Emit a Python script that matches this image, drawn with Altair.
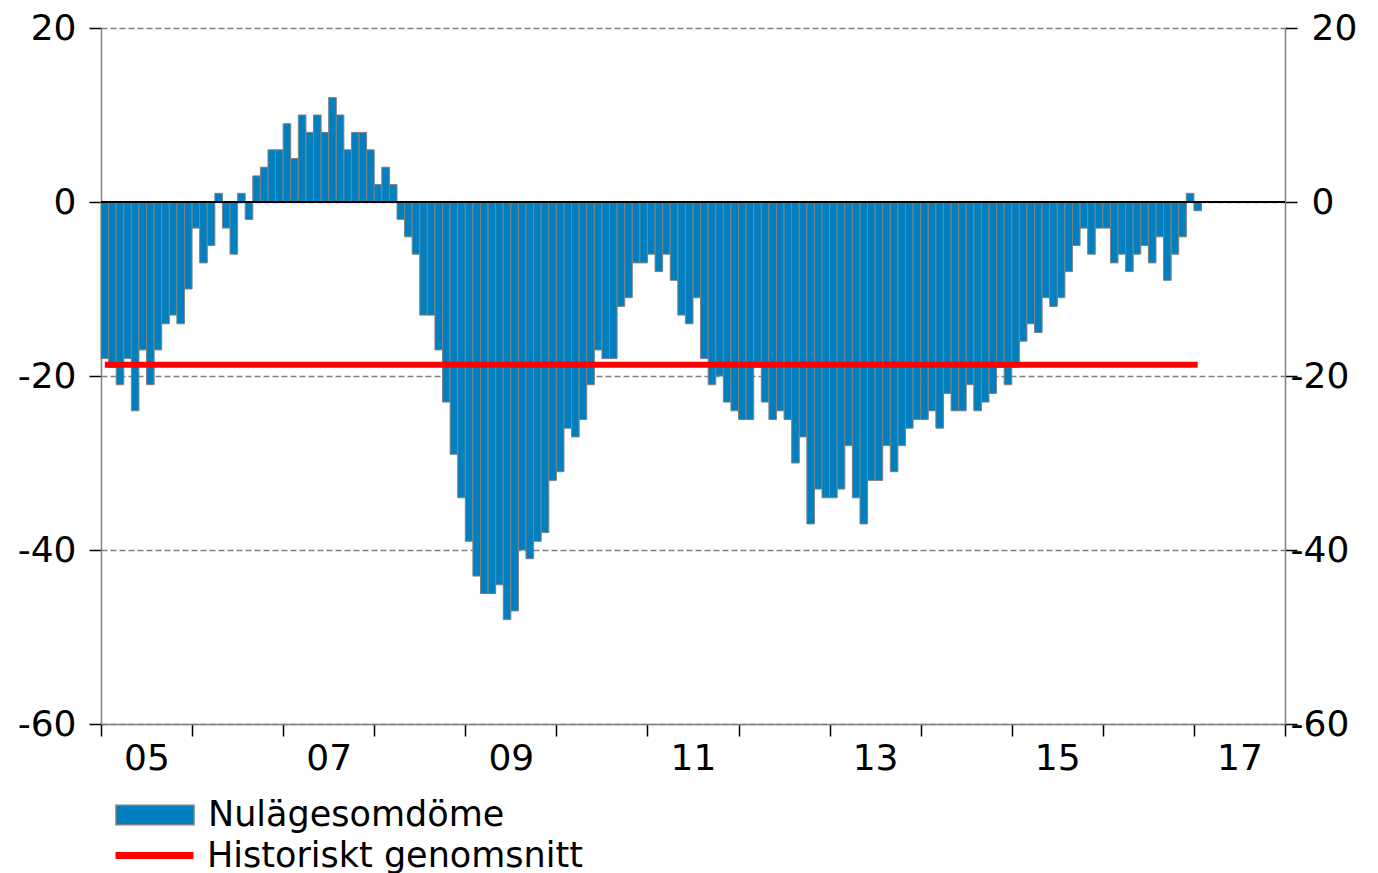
import altair as alt
import pandas as pd

# Monthly values, Jan 2005 - Jan 2017 (net balance)
values_2005 = [-18, -19, -21, -18, -24, -17, -21, -17, -14, -13, -14, -10]
values_2006 = [-3, -7, -5, 1, -3, -6, 1, -2, 3, 4, 6, 6]
values_2007 = [9, 5, 10, 8, 10, 8, 12, 10, 6, 8, 8, 6]
values_2008 = [2, 4, 2, -2, -4, -6, -13, -13, -17, -23, -29, -34]
values_2009 = [-39, -43, -45, -45, -44, -48, -47, -40, -41, -39, -38, -32]
values_2010 = [-31, -26, -27, -25, -21, -17, -18, -18, -12, -11, -7, -7]
values_2011 = [-6, -8, -6, -9, -13, -14, -11, -18, -21, -20, -23, -24]
values_2012 = [-25, -25, -19, -23, -25, -24, -25, -30, -27, -37, -33, -34]
values_2013 = [-34, -33, -28, -34, -37, -32, -32, -28, -31, -28, -26, -25]
values_2014 = [-25, -24, -26, -22, -24, -24, -21, -24, -23, -22, -19, -21]
values_2015 = [-19, -16, -14, -15, -11, -12, -11, -8, -5, -3, -6, -3]
values_2016 = [-3, -7, -6, -8, -6, -5, -7, -4, -9, -6, -4, 1]
values_2017 = [-1]

historical_average = -18.7
series_bar = "Nulägesomdöme"
series_line = "Historiskt genomsnitt"
y_ticks = [-60, -40, -20, 0, 20]
first_year = 5  # "05"

all_values = (values_2005 + values_2006 + values_2007 + values_2008 + values_2009
              + values_2010 + values_2011 + values_2012 + values_2013 + values_2014
              + values_2015 + values_2016 + values_2017)

bars_df = pd.DataFrame({
    "start": list(range(len(all_values))),
    "end": [i + 1 for i in range(len(all_values))],
    "value": all_values,
    "series": [series_bar] * len(all_values),
})
avg_df = pd.DataFrame({
    "start": [0.5],
    "end": [len(all_values) - 0.5],
    "value": [historical_average],
    "series": [series_line],
})
zero_df = pd.DataFrame({"y": [0]})

FONT = "DejaVu Sans"
BLUE = "#0080C0"
GRAY = "#808080"
AXIS_FS = 36
LEGEND_FS = 35

xscale = alt.Scale(domain=[0, 156], nice=False, zero=False)
yscale = alt.Scale(domain=[-60, 20], nice=False)

x_axis = alt.Axis(
    values=list(range(0, 157, 12)),
    labelExpr=f"datum.value % 24 == 0 ? format(datum.value / 12 + {first_year}, '02d') : ''",
    labelOffset=45.5, tickSize=12, tickColor="black", tickWidth=1.5,
    domainColor=GRAY, domainWidth=1.5, labelFontSize=AXIS_FS, labelFont=FONT,
    labelColor="black", labelPadding=5, labelFlush=False, labelOverlap=False,
    labelBound=False, grid=False, title=None,
)
left_axis = alt.Axis(
    values=y_ticks, orient="left", labelExpr="'' + datum.value",
    tickSize=12, tickColor="black", tickWidth=1.5,
    domainColor=GRAY, domainWidth=1.5, labelFontSize=AXIS_FS, labelFont=FONT,
    labelColor="black", labelPadding=13, labelFlush=False, labelOverlap=False,
    grid=True, gridColor=GRAY, gridDash=[6, 3], gridWidth=1.5, title=None,
)
right_axis = alt.Axis(
    values=y_ticks, orient="right", labelExpr="'' + datum.value",
    tickSize=12, tickColor="black", tickWidth=1.5,
    domainColor=GRAY, domainWidth=1.5, labelFontSize=AXIS_FS, labelFont=FONT,
    labelColor="black",
    labelPadding={"condition": {"test": "datum.value < 0", "value": -7}, "value": 14},
    labelFlush=False, labelOverlap=False,
    grid=False, title=None,
)

bars = alt.Chart(bars_df).mark_bar(stroke=GRAY, strokeWidth=1).encode(
    x=alt.X("start:Q", scale=xscale, axis=x_axis),
    x2="end:Q",
    y=alt.Y("value:Q", scale=yscale, axis=left_axis),
    y2=alt.datum(0),
    fill=alt.Fill("series:N", scale=alt.Scale(domain=[series_bar], range=[BLUE]),
                  legend=alt.Legend(orient="none", legendX=14, legendY=747, title=None,
                                    symbolType="M-1,-0.25H1V0.25H-1Z", symbolSize=6084,
                                    symbolStrokeColor=GRAY, symbolStrokeWidth=1.5,
                                    labelFontSize=LEGEND_FS, labelFont=FONT, labelColor="black",
                                    labelOffset=13, labelLimit=0, padding=0)),
)

avg = alt.Chart(avg_df).mark_rule(strokeWidth=6).encode(
    x=alt.X("start:Q", scale=xscale, axis=x_axis),
    x2="end:Q",
    y=alt.Y("value:Q", scale=yscale, axis=None),
    stroke=alt.Stroke("series:N", scale=alt.Scale(domain=[series_line], range=["#FF0000"]),
                      legend=alt.Legend(orient="none", legendX=11, legendY=785, title=None,
                                        symbolType="M-1,0H1", symbolSize=6084,
                                        symbolStrokeWidth=7,
                                        labelFontSize=LEGEND_FS, labelFont=FONT, labelColor="black",
                                        labelOffset=10, labelLimit=0, padding=0)),
)

zero = alt.Chart(zero_df).mark_rule(color="black", strokeWidth=2).encode(
    y=alt.Y("y:Q", scale=yscale, axis=right_axis),
)

chart = alt.layer(bars, avg, zero).resolve_axis(y="independent").properties(
    width=1184, height=696,
    autosize=alt.AutoSizeParams(type="none"),
    padding={"left": 93, "top": 20, "right": 80, "bottom": 152},
).configure_view(stroke=None)

chart.save("out.html", embed_options={"renderer": "svg", "actions": False})
